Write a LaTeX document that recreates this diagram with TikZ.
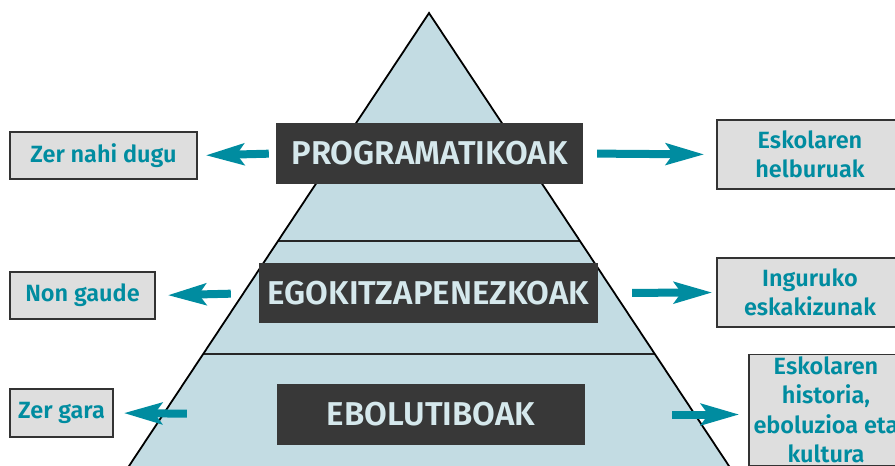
\documentclass[tikz,border=0pt]{standalone}
\usepackage{fontspec}
\setmainfont{Fira Sans}[BoldFont={Fira Sans SemiBold}]
\usetikzlibrary{calc,arrows.meta}
\definecolor{pyrfill}{RGB}{195,220,227}
\definecolor{tealarr}{RGB}{0,140,160}
\definecolor{darkfill}{RGB}{56,56,56}
\definecolor{lightfill}{RGB}{222,222,222}
\definecolor{lighttext}{RGB}{213,232,236}
\tikzset{
	levelbox/.style={fill=darkfill, text=lighttext, inner sep=0pt, font=\fontsize{33}{37}\selectfont\bfseries},
	notebox/.style={draw=black!80, line width=1.2pt, fill=lightfill, text=tealarr, inner sep=0pt, align=center, font=\fontsize{23.5}{29.5}\selectfont\bfseries},
	arr/.style={draw=tealarr, line width=8pt, -{Stealth[length=38pt, width=21pt, inset=7pt]}}
}
\begin{document}
\begin{tikzpicture}[x=1pt, y=-1pt]
			%%%%% START %%%%%
			\useasboundingbox (0, 0) rectangle (895, 466);
			\clip (0, 0) rectangle (895, 466);
			
			\coordinate (apex) at (429, 13);
			\coordinate (bl) at (106.5, 500);
			\coordinate (br) at (751.5, 500);
			
			\fill[pyrfill] (apex) -- (bl) -- (br) -- cycle;
			\draw[line width=2pt, black!85] ($(apex)!0.4692!(bl)$) -- ($(apex)!0.4692!(br)$);
			\draw[line width=2pt, black!85] ($(apex)!0.6992!(bl)$) -- ($(apex)!0.6992!(br)$);
			\draw[line width=1.8pt] (bl) -- (apex) -- (br);
			
			\node[levelbox, minimum width=307pt, minimum height=61pt] (prog) at (429.5, 153.5) {PROGRAMATIKOAK};
			\node[levelbox, minimum width=339pt, minimum height=60pt] (egok) at (428.5, 293) {EGOKITZAPENEZKOAK};
			\node[levelbox, minimum width=308pt, minimum height=61pt] (ebol) at (431, 414.5) {EBOLUTIBOAK};
			
			\node[notebox, minimum width=187pt, minimum height=47pt] (nahi) at (103.5, 155.5) {Zer nahi dugu};
			\node[notebox, minimum width=145pt, minimum height=47pt] (gaude) at (82.5, 295.5) {Non gaude};
			\node[notebox, minimum width=103pt, minimum height=48pt] (gara) at (61.5, 413) {Zer gara};
			
			\node[notebox, minimum width=186pt, minimum height=69pt] (helb) at (810, 154.5) {Eskolaren\\helburuak};
			\node[notebox, minimum width=186pt, minimum height=69pt] (ingur) at (810, 292.5) {Inguruko\\eskakizunak};
			\node[notebox, minimum width=154pt, inner ysep=2pt, anchor=north] (hist) at (826, 354) {Eskolaren\\historia,\\eboluzioa eta\\kultura};
			
			\draw[arr, shorten <=7pt, shorten >=8pt] (prog.west) -- (nahi.east);
			\draw[arr, shorten <=28pt, shorten >=12pt] (egok.west) -- (gaude.east);
			\draw[arr, shorten <=90pt, shorten >=10pt] (ebol.west) -- (gara.east);
			
			\draw[arr, shorten <=14pt, shorten >=12pt] (prog.east) -- (helb.west);
			\draw[arr, shorten <=34pt, shorten >=4pt] (egok.east) -- (ingur.west);
			\draw[arr, shorten <=87pt, shorten >=9pt] (ebol.east) -- (ebol.east -| hist.west);
			%%%%% END %%%%%
\end{tikzpicture}
\end{document}
